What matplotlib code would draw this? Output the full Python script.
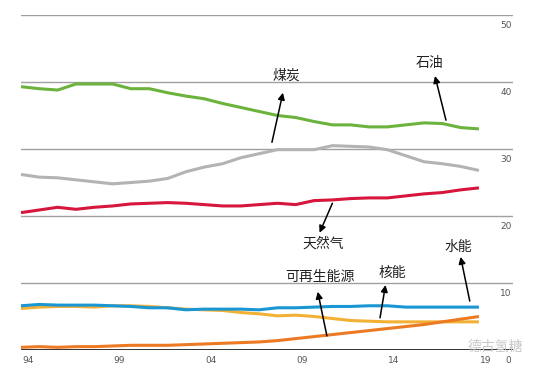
import matplotlib
matplotlib.use("Agg")
import matplotlib.pyplot as plt
from matplotlib.transforms import blended_transform_factory

plt.rcParams["font.family"] = ["Noto Sans CJK SC", "DejaVu Sans"]

years = list(range(1994, 2020))

oil = [39.3, 39.0, 38.8, 39.7, 39.7, 39.7, 39.0, 39.0, 38.4, 37.9, 37.5, 36.8, 36.2,
       35.6, 35.0, 34.7, 34.1, 33.6, 33.6, 33.3, 33.3, 33.6, 33.9, 33.8, 33.2, 33.0]
coal = [26.2, 25.8, 25.7, 25.4, 25.1, 24.8, 25.0, 25.2, 25.6, 26.6, 27.3, 27.8, 28.7,
        29.3, 29.9, 29.9, 29.9, 30.5, 30.4, 30.3, 29.9, 29.0, 28.1, 27.8, 27.4, 26.8]
gas = [20.5, 20.9, 21.3, 21.0, 21.3, 21.5, 21.8, 21.9, 22.0, 21.9, 21.7, 21.5, 21.5,
       21.7, 21.9, 21.7, 22.3, 22.4, 22.6, 22.7, 22.7, 23.0, 23.3, 23.5, 23.9, 24.2]
hydro = [6.6, 6.8, 6.7, 6.7, 6.7, 6.6, 6.5, 6.3, 6.3, 6.0, 6.1, 6.1, 6.1,
         6.0, 6.3, 6.3, 6.4, 6.5, 6.5, 6.6, 6.6, 6.4, 6.4, 6.4, 6.4, 6.4]
nuclear = [6.2, 6.4, 6.5, 6.5, 6.4, 6.6, 6.6, 6.5, 6.3, 6.1, 6.0, 5.9, 5.6,
           5.4, 5.1, 5.2, 5.0, 4.7, 4.4, 4.3, 4.2, 4.2, 4.2, 4.2, 4.2, 4.2]
renewables = [0.4, 0.5, 0.4, 0.5, 0.5, 0.6, 0.7, 0.7, 0.7, 0.8, 0.9, 1.0, 1.1,
              1.2, 1.4, 1.7, 2.0, 2.3, 2.6, 2.9, 3.2, 3.5, 3.8, 4.2, 4.6, 5.0]

y_ticks = [10, 20, 30, 40, 50]
x_ticks = [1994, 1999, 2004, 2009, 2014, 2019]
x_labels = ["94", "99", "04", "09", "14", "19"]

# label text, text position, arrow tail (on line), arrow head
notes = [
    ("煤炭", (2008.5, 41.0), (2007.7, 31.0), (2008.3, 38.4)),
    ("石油", (2016.3, 42.8), (2017.2, 34.3), (2016.6, 40.9)),
    ("天然气", (2010.5, 15.8), (2011.0, 21.9), (2010.3, 17.5)),
    ("水能", (2017.9, 15.4), (2018.5, 7.3), (2018.0, 13.9)),
    ("核能", (2014.3, 11.5), (2013.6, 4.8), (2013.9, 9.7)),
    ("可再生能源", (2010.3, 10.9), (2010.7, 2.1), (2010.2, 8.7)),
]

fig = plt.figure(figsize=(5.54, 3.74), dpi=100)
ax = fig.add_axes([21 / 554, 24 / 374, 492 / 554, 335 / 374])
ax.set_xlim(1994, 2020.86)
ax.set_ylim(0, 50)
ax.axis("off")

for v in y_ticks:
    ax.axhline(v, color="#a0a0a0", lw=1.0, zorder=1)
ax.axhline(0, color="#333333", lw=1.4, zorder=1)

trans = blended_transform_factory(ax.transAxes, ax.transData)
for v in y_ticks + [0]:
    ax.text(0.997, v - 0.9, str(v), transform=trans, ha="right", va="top",
            fontsize=6.5, color="#555555", family="DejaVu Sans")
for x, lab in zip(x_ticks, x_labels):
    ax.text(x + 0.05, -0.9, lab, ha="left", va="top", fontsize=6.5,
            color="#555555", family="DejaVu Sans")

series = [
    (oil, "#6cb33e"),
    (coal, "#b3b3b3"),
    (gas, "#d6163d"),
    (nuclear, "#f2b135"),
    (hydro, "#1a97d2"),
    (renewables, "#ec7a22"),
]
for vals, color in series:
    ax.plot(years, vals, color=color, lw=2.2, solid_capstyle="butt", zorder=3,
            clip_on=False)

for label, text_xy, tail, head in notes:
    ax.annotate("", xy=head, xytext=tail,
                arrowprops=dict(arrowstyle="-|>", color="black", lw=1.1,
                                mutation_scale=10, shrinkA=0, shrinkB=0),
                zorder=5)
    ax.text(text_xy[0], text_xy[1], label, ha="center", va="center",
            fontsize=10, color="#222222", zorder=5)

fig.text(495 / 554, 1 - 347 / 374, "德古氢糖", ha="center", va="center",
         fontsize=10, color="#c8c8c8")

fig.savefig("out.png", dpi=100)
